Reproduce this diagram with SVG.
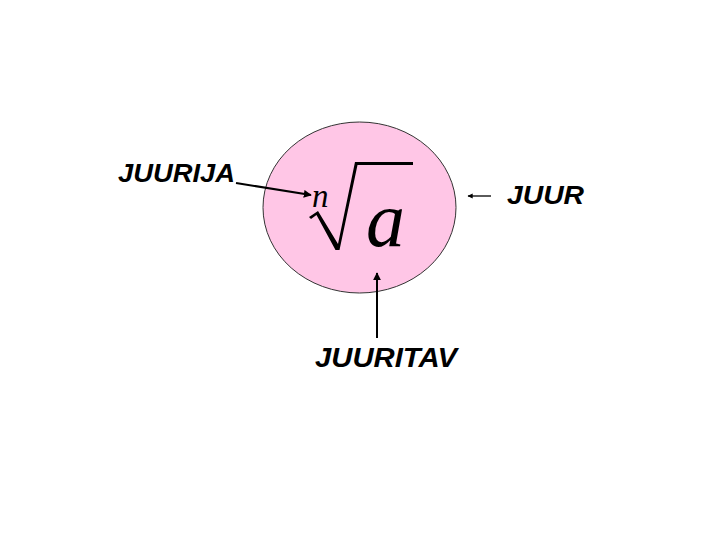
<svg xmlns="http://www.w3.org/2000/svg" width="720" height="540" viewBox="0 0 720 540">
<defs>
<style>
.lbl{font-family:"Liberation Sans",Arial,sans-serif;font-weight:bold;font-style:italic;fill:#000}
.math{font-family:"Liberation Serif","Times New Roman",serif;font-style:italic;fill:#000}
.conn{stroke:#000;stroke-width:2;fill:none;marker-end:url(#ah)}
</style>
<marker id="ah" viewBox="0 0 10 10" refX="9" refY="5" markerWidth="4" markerHeight="4" orient="auto" markerUnits="strokeWidth">
<path d="M0,0 L10,5 L0,10 Z" fill="#000"/>
</marker>
</defs>
<rect width="720" height="540" fill="#fff"/>
<g id="root">
<ellipse cx="359.5" cy="207.5" rx="96.5" ry="85.5" fill="#FFC6E6" stroke="#333" stroke-width="1"/>
<path d="M309,217 L318,211 L338,244 L355,162 L413,162 L413,165 L357.5,165 L339.5,250 L335.5,250 L316.5,215 L311,219 Z" fill="#000"/>
<text class="math" x="312" y="207" font-size="33">n</text>
<text class="math" x="366" y="246" font-size="78">a</text>
</g>
<g id="juurija"><text class="lbl" x="118" y="182" font-size="26" textLength="117" lengthAdjust="spacingAndGlyphs">JUURIJA</text></g>
<g id="juur"><text class="lbl" x="507" y="204" font-size="26" textLength="77" lengthAdjust="spacingAndGlyphs">JUUR</text></g>
<g id="juuritav"><text class="lbl" x="315" y="367" font-size="27" textLength="142" lengthAdjust="spacingAndGlyphs">JUURITAV</text></g>
<g id="connectors">
<line class="conn" x1="236" y1="183" x2="311" y2="195"/>
<line class="conn" x1="491" y1="196" x2="468" y2="196" style="stroke-width:1.3"/>
<line class="conn" x1="377" y1="338" x2="377" y2="273"/>
</g>
</svg>
